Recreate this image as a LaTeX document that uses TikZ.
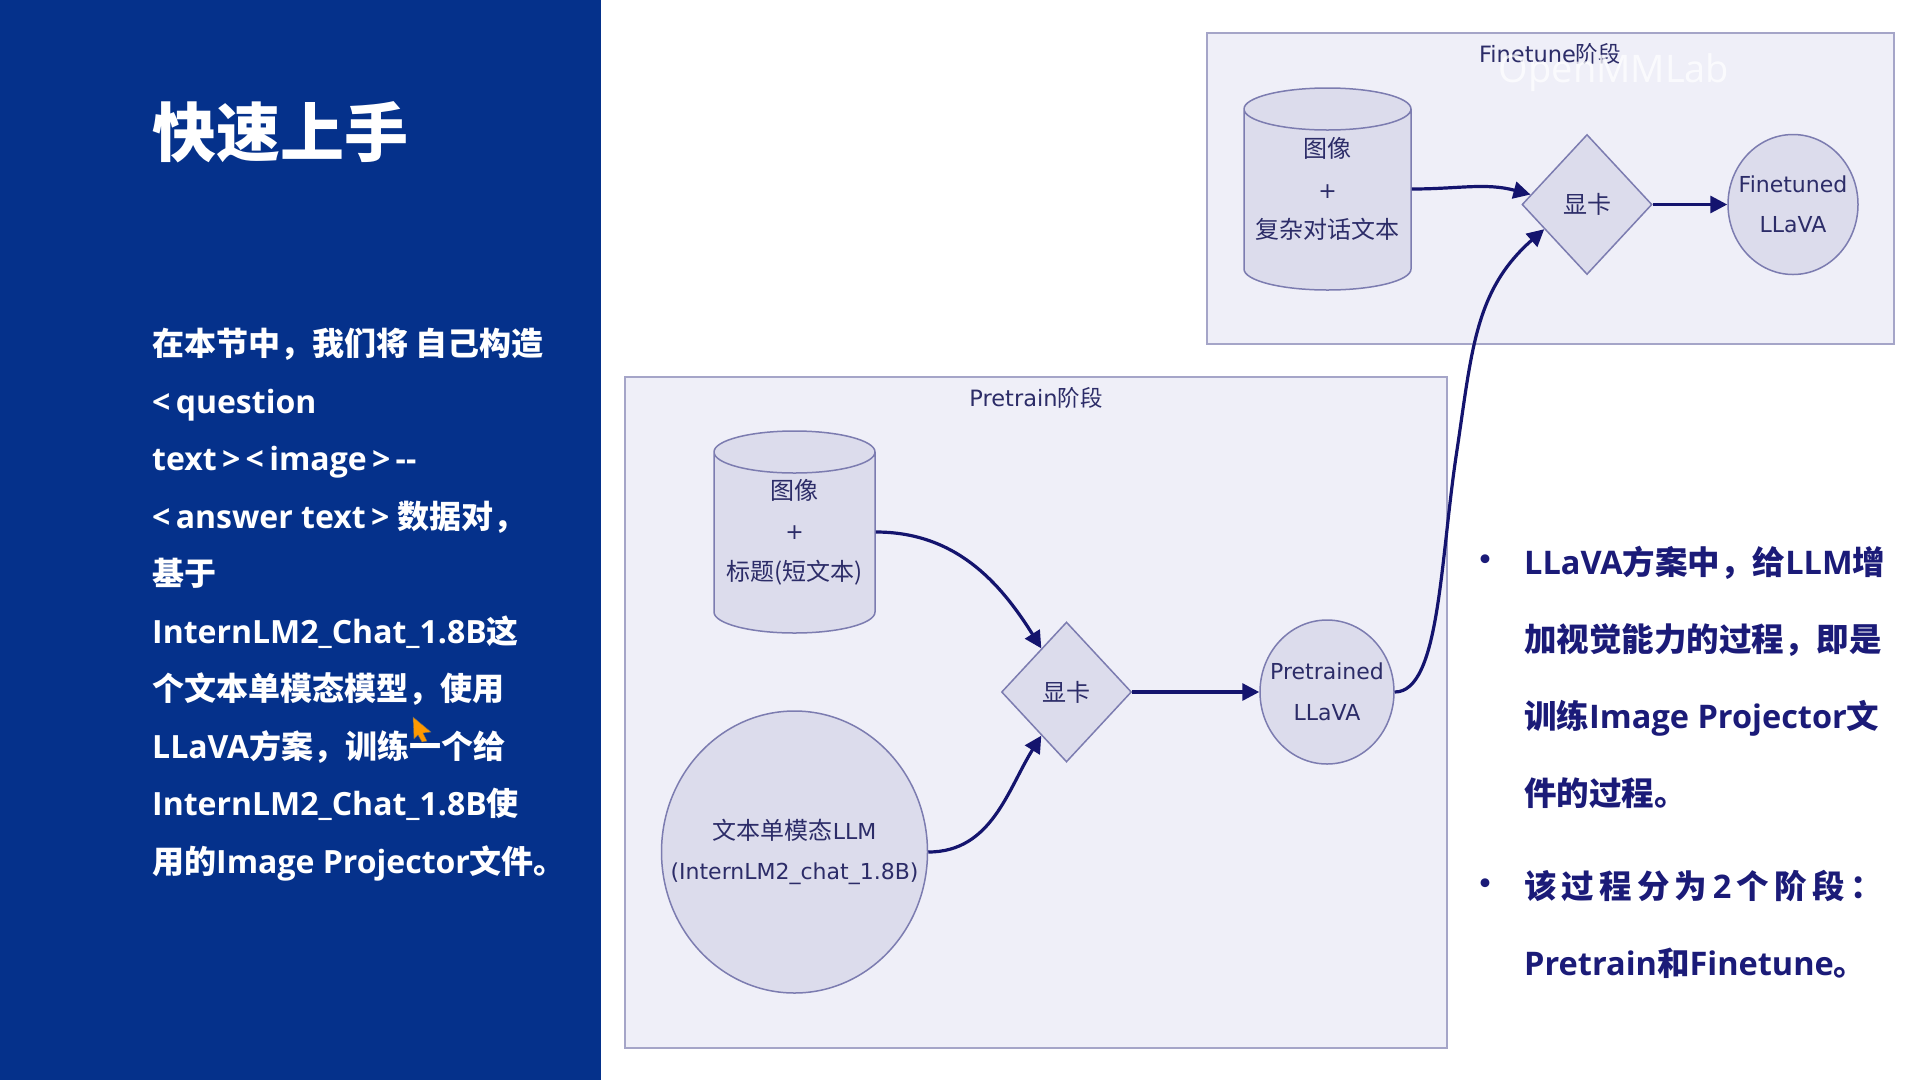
\documentclass[tikz,border=0pt]{standalone}
\usepackage{fontspec}
\setmainfont{DejaVu Sans}
\newfontfamily\cjk{Noto Sans CJK SC}
\newfontfamily\cjkwide[LetterSpace=16]{Noto Sans CJK SC}
\newfontfamily\slidefont{Open Sans}
\newcommand{\zh}[1]{{\cjk #1}}
\newcommand{\zhw}[1]{{\cjkwide #1}}
\newcommand{\zhn}[1]{{\cjk\fontsize{24}{40.5}\selectfont #1}}
\newcommand{\tightline}[1]{\makebox[0pt]{#1}}
\newcommand{\storebody}{\phantom{\rule{140pt}{100pt}}}
\usetikzlibrary{arrows.meta,positioning,shapes.geometric}
\definecolor{panelblue}{HTML}{05318B}
\definecolor{stagefill}{HTML}{EFEFF8}
\definecolor{stageline}{HTML}{A5A5C8}
\definecolor{shapefill}{HTML}{DCDCEC}
\definecolor{shapeline}{HTML}{7C7CB0}
\definecolor{nodetext}{HTML}{2C2C68}
\definecolor{flowline}{HTML}{14146E}
\definecolor{bullettext}{HTML}{1B1B78}

\begin{document}
\begin{tikzpicture}[x=1pt,y=-1pt,>={Triangle[length=17pt,width=17pt]},node distance=100pt,on grid]
\tikzstyle{stage} = [draw=stageline,fill=stagefill,line width=1.6pt,inner sep=0pt]
\tikzstyle{stagetitle} = [text=nodetext,font=\fontsize{22.5}{26}\selectfont]
\tikzstyle{plain} = [draw=shapeline,fill=shapefill,line width=1.5pt,text=nodetext,align=center,inner sep=0pt,font=\fontsize{22}{40.5}\selectfont]
\tikzstyle{store} = [draw=shapeline,line width=1.5pt,inner sep=0pt,anchor=shape center,cylinder,shape border rotate=90,shape aspect=0.3,cylinder uses custom fill,cylinder body fill=shapefill,cylinder end fill=shapefill]
\tikzstyle{storetext} = [text=nodetext,align=center,inner sep=0pt,font=\fontsize{22}{40.5}\selectfont]
\tikzstyle{gpu} = [plain,diamond,minimum width=130pt,minimum height=140pt]
\tikzstyle{model} = [plain,ellipse]
\tikzstyle{slidetext} = [align=left,inner sep=0pt,anchor=north west,font=\fontsize{32}{57.5}\selectfont\slidefont\bfseries]
\tikzstyle{bullettxt} = [slidetext,text=bullettext,font=\fontsize{32.5}{77}\selectfont\slidefont\bfseries]
\tikzstyle{bulletdot} = [text=bullettext,inner sep=0pt,font=\fontsize{25}{30}\selectfont\bfseries]
\useasboundingbox (0,0) rectangle (1920,1080);

    \fill[panelblue] (0,0) rectangle (601,1080);
    \node[text=white,inner sep=0pt,font=\fontsize{64}{70}\selectfont\cjk\bfseries] (title) at (280,132) {快速上手};
    \node[slidetext,text=white] (intro) at (152,328) {\zh{在本节中，我们将 自己构造}\\<\,question\\text\,>\,<\,image\,>\,-{}-\\<\,answer text\,> \zh{数据对，}\\\zh{基于}\\InternLM2\_Chat\_1.8B\zh{这}\\\zh{个文本单模态模型，使用}\\LLaVA\zh{方案，训练一个给}\\InternLM2\_Chat\_1.8B\zh{使}\\\zh{用的}Image Projector\zh{文件。}};

    \node[stage,minimum width=822pt,minimum height=671pt] (stageP) at (1036,712.5) {};
    \node[stagetitle] (titleP) at (1036,398) {Pretrain\zh{阶段}};
    \node[stage,minimum width=687pt,minimum height=311pt] (stageF) at (1550.5,188.5) {};
    \node[stagetitle] (titleF) at (1550,54) {Finetune\zh{阶段}};

    \node[store,minimum height=202pt,minimum width=161pt] (cylP) at (794.5,532) {\storebody};
    \node[storetext] (txtP) at (cylP.shape center) {\zhn{图像}\\+\\\zhn{标题(短文本)}};
    \node[gpu] (dispP) [below right =160pt and 272pt of txtP] {\zhn{显卡}};
    \node[model,minimum width=134pt,minimum height=144pt] (llavaP) [right =260.5pt of dispP] {\tightline{Pretrained}\\\tightline{LLaVA}};
    \node[model,minimum width=266pt,minimum height=282pt] (llmP) [below =320pt of txtP] {\tightline{\zhn{文本单模态}LLM}\\\tightline{(InternLM2\_chat\_1.8B)}};

    \node[store,minimum height=202pt,minimum width=167pt] (cylF) at (1327.5,189) {\storebody};
    \node[storetext] (txtF) at (cylF.shape center) {\zhn{图像}\\+\\\zhn{复杂对话文本}};
    \node[gpu] (dispF) [below right =15.5pt and 259.5pt of txtF] {\zhn{显卡}};
    \node[model,minimum width=130pt,minimum height=140pt] (llavaF) [right =206pt of dispF] {\tightline{Finetuned}\\\tightline{LLaVA}};

    \coordinate (bendP) at (1457,450);
    \tikzset{flow/.style={->,draw=flowline,line width=3.2pt}}
    \draw (txtP -| cylP.east) edge [flow,out=0,in=122] (dispP.120);
    \draw (llmP.east) edge [flow,out=0,in=-122] (dispP.240);
    \draw (dispP.east) edge [flow] (llavaP.west);
    \draw[flow] (llavaP.east) .. controls (1440,692) and (1440,560) .. (bendP) .. controls (1472,350) and (1475,290) .. (dispF.210);
    \draw (txtF -| cylF.east) edge [flow,out=0,in=165] (dispF.170);
    \draw (dispF.east) edge [flow] (llavaF.west);

    \node[text=white,opacity=0.75,inner sep=0pt,font=\fontsize{38}{44}\selectfont\slidefont] (mark) at (1614,73) {OpenMMLab};

    \node[bulletdot] (dotA) at (1485,562) {•};
    \node[bullettxt] (bulletA) at (1524,546) {LLaVA\zh{方案中，给}LLM\zh{增}\\\zh{加视觉能力的过程，即是}\\\zh{训练}Image Projector\zh{文}\\\zh{件的过程。}};
    \node[bulletdot] (dotB) at (1485,886) {•};
    \node[bullettxt] (bulletB) at (1524,870) {\zhw{该过程分为}\,2\,\zhw{个阶段：}\\Pretrain\zh{和}Finetune\zh{。}};

    \fill[orange!80!yellow,draw=black!60,line width=0.4pt] (413,717) -- (431,732) -- (423,733) -- (427,741) -- (422,742) -- (418,735) -- (414,739) -- cycle;
\end{tikzpicture}
\end{document}
